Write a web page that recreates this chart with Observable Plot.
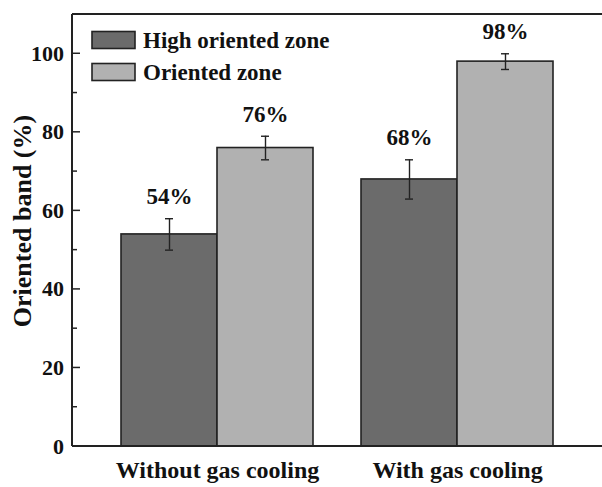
<!DOCTYPE html>
<html>
<head>
<meta charset="utf-8">
<script src="https://cdn.jsdelivr.net/npm/d3@7"></script>
<script src="https://cdn.jsdelivr.net/npm/@observablehq/plot@0.6"></script>
<style>
  html, body { margin: 0; padding: 0; background: #fff; }
  #chart { width: 602px; height: 487px; position: relative; }
  svg { display: block; }
</style>
</head>
<body>
<div id="chart"></div>
<script>
const groups = ["Without gas cooling", "With gas cooling"];
const series = ["High oriented zone", "Oriented zone"];
const highValues = [54, 68];
const highErrors = [4, 5];
const orientedValues = [76, 98];
const orientedErrors = [3, 2];
const yTicks = [0, 20, 40, 60, 80, 100];
const yMinorTicks = [10, 30, 50, 70, 90];
const yDomain = [0, 110];
const colors = ["#6b6b6b", "#b1b1b1"];
const yLabel = "Oriented band (%)";

const data = groups.flatMap((g, i) => [
  {group: g, series: series[0], value: highValues[i], err: highErrors[i]},
  {group: g, series: series[1], value: orientedValues[i], err: orientedErrors[i]}
]);

const W = 602, H = 487, mL = 72, mR = 0, mT = 14, mB = 41;
const font = "'Liberation Serif', 'Times New Roman', serif";
const ink = "#222";

const plot = Plot.plot({
  width: W, height: H,
  marginLeft: mL, marginRight: mR, marginTop: mT, marginBottom: mB,
  style: {fontFamily: font, fontSize: "24px", fontWeight: "bold", color: "#111", background: "#fff"},
  fx: {domain: groups, paddingInner: 0.2, paddingOuter: 0.2, axis: "bottom", tickSize: 0, tickPadding: 14, label: null},
  x: {domain: series, padding: 0, axis: null},
  y: {domain: yDomain, axis: null},
  color: {domain: series, range: colors},
  marks: [
    Plot.barY(data, {fx: "group", x: "series", y: "value", fill: "series", stroke: ink, strokeWidth: 1.6}),
    Plot.ruleX(data, {fx: "group", x: "series", y1: d => d.value - d.err, y2: d => d.value + d.err, stroke: ink, strokeWidth: 1.4}),
    Plot.tickY(data, {fx: "group", x: "series", y: d => d.value - d.err, stroke: ink, strokeWidth: 1.4, insetLeft: 44, insetRight: 44}),
    Plot.tickY(data, {fx: "group", x: "series", y: d => d.value + d.err, stroke: ink, strokeWidth: 1.4, insetLeft: 44, insetRight: 44}),
    Plot.text(data, {fx: "group", x: "series", y: d => d.value + d.err, dy: -22, text: d => d.value + "%", fontSize: 23, fontWeight: "bold", fill: "#111"})
  ]
});
document.getElementById("chart").appendChild(plot);

// frame, inward ticks, tick labels, axis title and legend drawn with the same y range
const y = d3.scaleLinear().domain(yDomain).range([H - mB, mT]);
const svg = d3.select(plot);
const g = svg.append("g").attr("stroke", ink).attr("fill", "none");
g.append("line").attr("x1", mL).attr("x2", W).attr("y1", y(yDomain[1])).attr("y2", y(yDomain[1])).attr("stroke-width", 2);
g.append("line").attr("x1", mL).attr("x2", W).attr("y1", y(0)).attr("y2", y(0)).attr("stroke-width", 2);
g.append("line").attr("x1", mL).attr("x2", mL).attr("y1", y(yDomain[1])).attr("y2", y(0)).attr("stroke-width", 2);
g.selectAll(".maj").data(yTicks).join("line")
  .attr("x1", mL).attr("x2", mL + 8).attr("y1", d => y(d)).attr("y2", d => y(d)).attr("stroke-width", 1.5);
g.selectAll(".min").data(yMinorTicks).join("line")
  .attr("x1", mL).attr("x2", mL + 5).attr("y1", d => y(d)).attr("y2", d => y(d)).attr("stroke-width", 1.5);

svg.append("g").attr("font-family", font).attr("font-weight", "bold").attr("font-size", 22).attr("fill", "#111")
  .selectAll("text").data(yTicks).join("text")
  .attr("x", mL - 8).attr("y", d => y(d)).attr("text-anchor", "end").attr("dominant-baseline", "central")
  .text(d => String(d));

svg.append("text")
  .attr("transform", `translate(22,${(y(0) + y(yDomain[1])) / 2 - 9}) rotate(-90)`)
  .attr("text-anchor", "middle").attr("dominant-baseline", "central")
  .attr("font-family", font).attr("font-weight", "bold").attr("font-size", 26).attr("fill", "#111")
  .text(yLabel);

const leg = svg.append("g").attr("font-family", font).attr("font-weight", "bold").attr("font-size", 23).attr("text-anchor", "start");
series.forEach((s, i) => {
  const cy = 40 + i * 32;
  leg.append("rect").attr("x", 92).attr("y", cy - 8.5).attr("width", 43).attr("height", 17)
    .attr("fill", colors[i]).attr("stroke", ink).attr("stroke-width", 1.6);
  leg.append("text").attr("x", 143).attr("y", cy).attr("text-anchor", "start").attr("dominant-baseline", "central").attr("fill", "#111").text(s);
});
</script>
</body>
</html>
